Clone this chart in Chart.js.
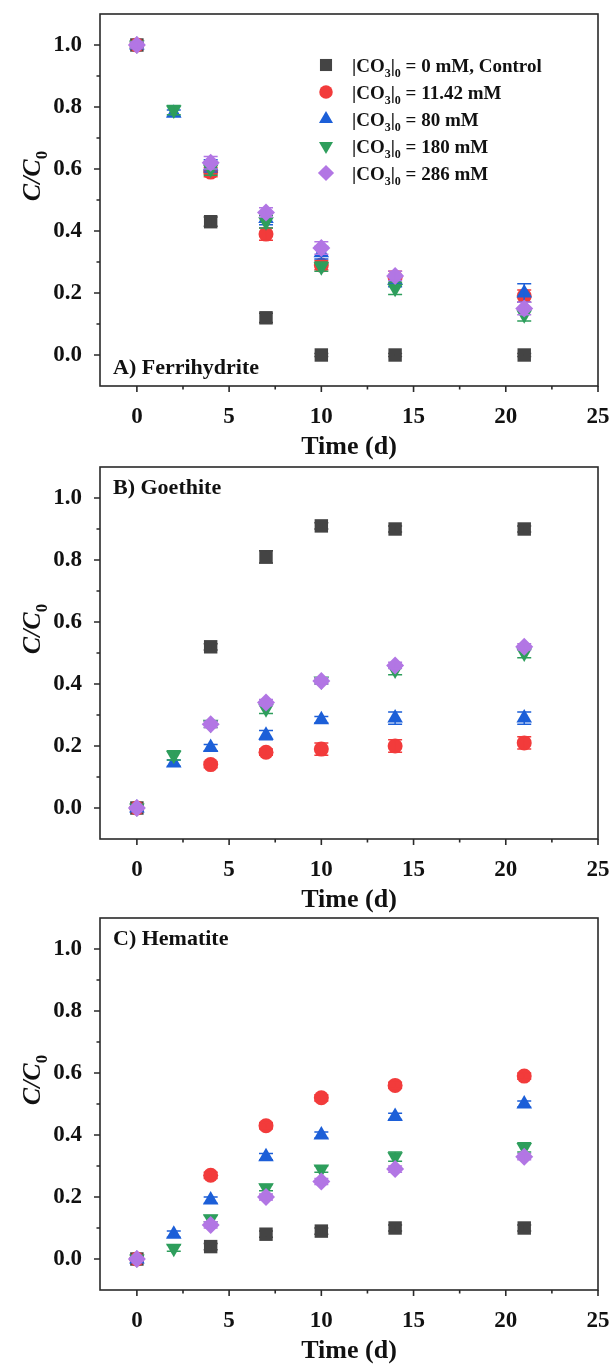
<!DOCTYPE html>
<html>
<head>
<meta charset="utf-8">
<script src="https://cdn.jsdelivr.net/npm/chart.js@4.4.1/dist/chart.umd.min.js"></script>
<style>
html,body{margin:0;padding:0;background:#ffffff;}
#wrap{position:relative;width:611px;height:1367px;overflow:hidden;background:#ffffff;}
canvas{position:absolute;left:0;}
</style>
</head>
<body>
<div id="wrap">
<canvas id="cA" width="611" height="463" style="top:0px;width:611px;height:463px"></canvas>
<canvas id="cB" width="611" height="463" style="top:453px;width:611px;height:463px"></canvas>
<canvas id="cC" width="611" height="463" style="top:904px;width:611px;height:463px"></canvas>
</div>
<script>
// ---------- data ----------
const days = [0, 2, 4, 7, 10, 14, 21];

const xTickValues = [0, 5, 10, 15, 20, 25];
const xTickLabels = ['0', '5', '10', '15', '20', '25'];
const yTickValues = [0, 0.2, 0.4, 0.6, 0.8, 1.0];
const yTickLabels = ['0.0', '0.2', '0.4', '0.6', '0.8', '1.0'];

const concLabels = ['0 mM, Control', '11.42 mM', '80 mM', '180 mM', '286 mM'];
const panelLabels = ['A) Ferrihydrite', 'B) Goethite', 'C) Hematite'];
const xTitle = 'Time (d)';

// Panel A - Ferrihydrite
const ctrlA = [1.00, null, 0.43, 0.12, 0.00, 0.00, 0.00];
const c11A  = [1.00, null, 0.59, 0.39, 0.29, 0.25, 0.19];
const c80A  = [1.00, 0.78, 0.61, 0.44, 0.33, 0.24, 0.20];
const c180A = [1.00, 0.79, 0.60, 0.43, 0.285, 0.215, 0.13];
const c286A = [1.00, null, 0.62, 0.46, 0.345, 0.255, 0.15];
const eCtrlA = [0.01, null, 0.015, 0.015, 0.005, 0.005, 0.005];
const e11A   = [0.01, null, 0.015, 0.02, 0.015, 0.02, 0.02];
const e80A   = [0.01, 0.01, 0.02, 0.02, 0.02, 0.02, 0.03];
const e180A  = [0.01, 0.015, 0.02, 0.02, 0.015, 0.02, 0.02];
const e286A  = [0.01, null, 0.02, 0.015, 0.02, 0.015, 0.02];

// Panel B - Goethite
const ctrlB = [0.00, null, 0.52, 0.81, 0.91, 0.90, 0.90];
const c11B  = [0.00, null, 0.14, 0.18, 0.19, 0.20, 0.21];
const c80B  = [0.00, 0.145, 0.195, 0.235, 0.285, 0.29, 0.29];
const c180B = [0.00, 0.17, 0.27, 0.32, 0.41, 0.445, 0.50];
const c286B = [0.00, null, 0.27, 0.34, 0.41, 0.46, 0.52];
const eCtrlB = [0.005, null, 0.01, 0.02, 0.01, 0.01, 0.01];
const e11B   = [0.005, null, 0.01, 0.01, 0.02, 0.02, 0.02];
const e80B   = [0.005, 0.01, 0.01, 0.015, 0.01, 0.02, 0.02];
const e180B  = [0.005, 0.015, 0.01, 0.015, 0.01, 0.015, 0.015];
const e286B  = [0.005, null, 0.01, 0.01, 0.01, 0.01, 0.01];

// Panel C - Hematite
const ctrlC = [0.00, null, 0.04, 0.08, 0.09, 0.10, 0.10];
const c11C  = [0.00, null, 0.27, 0.43, 0.52, 0.56, 0.59];
const c80C  = [0.00, 0.08, 0.19, 0.33, 0.40, 0.46, 0.50];
const c180C = [0.00, 0.035, 0.13, 0.23, 0.29, 0.33, 0.36];
const c286C = [0.00, null, 0.11, 0.20, 0.25, 0.29, 0.33];
const eCtrlC = [0.005, null, 0.01, 0.01, 0.01, 0.01, 0.01];
const e11C   = [0.005, null, 0.01, 0.01, 0.01, 0.01, 0.01];
const e80C   = [0.005, 0.01, 0.01, 0.01, 0.01, 0.01, 0.01];
const e180C  = [0.005, 0.01, 0.01, 0.01, 0.01, 0.015, 0.015];
const e286C  = [0.005, null, 0.01, 0.01, 0.01, 0.01, 0.01];

// ---------- styles ----------
const FONT = "'Liberation Serif', 'Times New Roman', Times, serif";
const colors = ['#444444', '#f23b3b', '#1c5fd8', '#2e9e5c', '#b276e4'];
const pointStyles = ['rect', 'circle', 'triangle', 'triangle', 'rectRot'];
const rotations = [0, 0, 0, 180, 0];
const radii = [9.5, 7.5, 9, 9, 9];
const frameColor = '#2a2a2a';
const textColor = '#111111';

function toPoints(vals, errs) {
  const out = [];
  days.forEach((d, i) => {
    if (vals[i] !== null && vals[i] !== undefined) out.push({x: d, y: vals[i], e: errs[i] || 0});
  });
  return out;
}
function isIn(v, list) { return list.some(m => Math.abs(m - v) < 1e-6); }
function idxIn(v, list) { return list.findIndex(m => Math.abs(m - v) < 1e-6); }
// major ticks plus one minor tick between each pair, kept inside [lo, hi]
function withMinors(majors, lo, hi) {
  const step = majors[1] - majors[0];
  const out = [majors[0] - step / 2];
  majors.forEach(m => { out.push(m); out.push(m + step / 2); });
  return out
    .map(v => Math.round(v * 1000) / 1000)
    .filter(v => v >= lo - 1e-9 && v <= hi + 1e-9)
    .map(v => ({value: v}));
}

function drawRich(ctx, parts, x, y, size, italicMain) {
  let cx = x;
  parts.forEach(p => {
    if (p.sub) {
      ctx.font = 'bold ' + Math.round(size * 0.65) + 'px ' + FONT;
      ctx.fillText(p.t, cx, y + size * 0.28);
    } else {
      ctx.font = (italicMain ? 'italic ' : '') + 'bold ' + size + 'px ' + FONT;
      ctx.fillText(p.t, cx, y);
    }
    cx += ctx.measureText(p.t).width;
  });
  return cx - x;
}
function measureRich(ctx, parts, size, italicMain) {
  let w = 0;
  parts.forEach(p => {
    ctx.font = p.sub ? ('bold ' + Math.round(size * 0.65) + 'px ' + FONT)
                     : ((italicMain ? 'italic ' : '') + 'bold ' + size + 'px ' + FONT);
    w += ctx.measureText(p.t).width;
  });
  return w;
}

const decor = {
  id: 'decor',
  beforeDatasetsDraw(chart) {
    const ctx = chart.ctx, ca = chart.chartArea, xs = chart.scales.x, ys = chart.scales.y;
    ctx.save();
    ctx.strokeStyle = frameColor;
    ctx.lineWidth = 1.6;
    ctx.strokeRect(ca.left, ca.top, ca.right - ca.left, ca.bottom - ca.top);
    ctx.beginPath();
    xs.ticks.forEach(t => {
      const major = isIn(t.value, xTickValues);
      if (!major && (Math.abs(t.value - xs.min) < 1e-6 || Math.abs(t.value - xs.max) < 1e-6)) return;
      const px = xs.getPixelForValue(t.value);
      ctx.moveTo(px, ca.bottom);
      ctx.lineTo(px, ca.bottom + (major ? 6 : 3.5));
    });
    ys.ticks.forEach(t => {
      const major = isIn(t.value, yTickValues);
      if (!major && (Math.abs(t.value - ys.min) < 1e-6 || Math.abs(t.value - ys.max) < 1e-6)) return;
      const py = ys.getPixelForValue(t.value);
      ctx.moveTo(ca.left, py);
      ctx.lineTo(ca.left - (major ? 6 : 3.5), py);
    });
    ctx.stroke();
    ctx.restore();
  },
  afterDatasetDraw(chart, args) {
    const ctx = chart.ctx, xs = chart.scales.x, ys = chart.scales.y;
    const ds = chart.data.datasets[args.index];
    ctx.save();
    ctx.strokeStyle = ds.pointBackgroundColor;
    ctx.lineWidth = 1.5;
    ctx.beginPath();
    ds.data.forEach(p => {
      if (!p.e) return;
      const px = xs.getPixelForValue(p.x);
      const y1 = ys.getPixelForValue(p.y + p.e);
      const y2 = ys.getPixelForValue(p.y - p.e);
      ctx.moveTo(px, y1); ctx.lineTo(px, y2);
      ctx.moveTo(px - 7, y1); ctx.lineTo(px + 7, y1);
      ctx.moveTo(px - 7, y2); ctx.lineTo(px + 7, y2);
    });
    ctx.stroke();
    ctx.restore();
  },
  afterDraw(chart, args, opts) {
    const ctx = chart.ctx, ca = chart.chartArea;
    ctx.save();
    ctx.fillStyle = textColor;
    ctx.textBaseline = 'alphabetic';
    ctx.textAlign = 'left';
    // y-axis title C/C0
    const tparts = [{t: 'C/C', sub: false}, {t: '0', sub: true}];
    const tw = measureRich(ctx, tparts, 26, true);
    ctx.translate(40, (ca.top + ca.bottom) / 2 - 24);
    ctx.rotate(-Math.PI / 2);
    drawRich(ctx, tparts, -tw / 2, 0, 26, true);
    ctx.setTransform(1, 0, 0, 1, 0, 0);
    // panel label
    ctx.font = 'bold 22px ' + FONT;
    const ly = opts.panel === 0 ? ca.bottom - 12 : ca.top + 27;
    ctx.fillText(panelLabels[opts.panel], ca.left + 13, ly);
    // legend
    if (opts.legend) {
      const lx = ca.left + 226, ly0 = ca.top + 51, step = 27;
      chart.data.datasets.forEach((ds, k) => {
        const yy = ly0 + k * step;
        ctx.fillStyle = colors[k];
        Chart.helpers.drawPoint(ctx, {pointStyle: pointStyles[k], radius: radii[k] * 0.9, rotation: rotations[k], borderWidth: 0}, lx, yy);
        ctx.fillStyle = textColor;
        const parts = [{t: '|CO', sub: false}, {t: '3', sub: true}, {t: '|', sub: false}, {t: '0', sub: true}, {t: ' = ' + concLabels[k], sub: false}];
        drawRich(ctx, parts, lx + 26, yy + 6.5, 19, false);
      });
    }
    ctx.restore();
  }
};

function makeChart(id, series, errs, panelIdx, showLegend) {
  return new Chart(document.getElementById(id), {
    type: 'scatter',
    data: {
      datasets: series.map((vals, k) => ({
        label: '|CO\u2083|\u2080 = ' + concLabels[k],
        data: toPoints(vals, errs[k]),
        pointStyle: pointStyles[k],
        pointRotation: rotations[k],
        pointRadius: radii[k],
        pointHoverRadius: radii[k],
        pointBackgroundColor: colors[k],
        pointBorderColor: colors[k],
        pointBorderWidth: 0,
        backgroundColor: colors[k],
        borderColor: colors[k],
        showLine: false,
        order: 5 - k
      }))
    },
    options: {
      responsive: false,
      animation: false,
      devicePixelRatio: 1,
      events: [],
      layout: {autoPadding: false, padding: {top: 14, right: 13, left: 0, bottom: 0}},
      plugins: {
        legend: {display: false},
        tooltip: {enabled: false},
        decor: {panel: panelIdx, legend: showLegend}
      },
      scales: {
        x: {
          type: 'linear', min: -2, max: 25,
          afterFit(s) { s.height = 77; s.paddingLeft = 0; s.paddingRight = 0; },
          afterBuildTicks(s) { s.ticks = withMinors(xTickValues, s.min, s.max); },
          grid: {display: false}, border: {display: false},
          ticks: {
            autoSkip: false, maxRotation: 0, padding: 9, color: textColor,
            font: {family: FONT, size: 23, weight: 'bold'},
            callback(v) { const i = idxIn(v, xTickValues); return i >= 0 ? xTickLabels[i] : ''; }
          },
          title: {display: true, text: xTitle, color: textColor, padding: {top: 0, bottom: 0},
                  font: {family: FONT, size: 26, weight: 'bold'}}
        },
        y: {
          type: 'linear', min: -0.1, max: 1.1,
          afterFit(s) { s.width = 100; s.paddingTop = 0; s.paddingBottom = 0; },
          afterBuildTicks(s) { s.ticks = withMinors(yTickValues, s.min, s.max); },
          grid: {display: false}, border: {display: false},
          ticks: {
            autoSkip: false, padding: 10, color: textColor,
            font: {family: FONT, size: 23, weight: 'bold'},
            callback(v) { const i = idxIn(v, yTickValues); return i >= 0 ? yTickLabels[i] : ''; }
          }
        }
      }
    },
    plugins: [decor]
  });
}

makeChart('cA', [ctrlA, c11A, c80A, c180A, c286A], [eCtrlA, e11A, e80A, e180A, e286A], 0, true);
makeChart('cB', [ctrlB, c11B, c80B, c180B, c286B], [eCtrlB, e11B, e80B, e180B, e286B], 1, false);
makeChart('cC', [ctrlC, c11C, c80C, c180C, c286C], [eCtrlC, e11C, e80C, e180C, e286C], 2, false);
</script>
</body>
</html>
